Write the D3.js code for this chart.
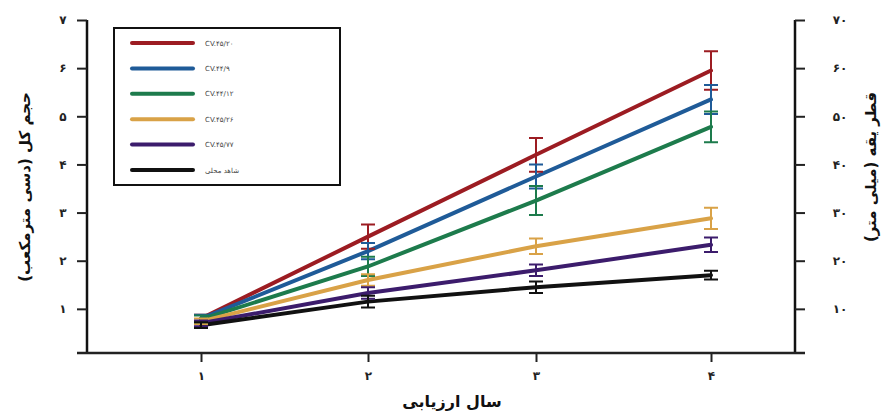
<!DOCTYPE html>
<html>
<head>
<meta charset="utf-8">
<script src="https://cdn.jsdelivr.net/npm/d3@7"></script>
<style>
  html, body { margin: 0; padding: 0; background: #fff; }
  svg { display: block; }
  text { font-family: "DejaVu Sans", sans-serif; }
</style>
</head>
<body>
<svg id="chart" width="892" height="414"></svg>
<script>
// ---------- data ----------
const years = [1, 2, 3, 4];
const yearLabels = ["۱", "۲", "۳", "۴"];
const leftTickValues = [1, 2, 3, 4, 5, 6, 7];
const leftTickLabels = ["۱", "۲", "۳", "۴", "۵", "۶", "۷"];
const rightTickValues = [10, 20, 30, 40, 50, 60, 70];
const rightTickLabels = ["۱۰", "۲۰", "۳۰", "۴۰", "۵۰", "۶۰", "۷۰"];

const seriesNames = ["CV.۴۵/۲۰", "CV.۴۴/۹", "CV.۴۴/۱۲", "CV.۴۵/۲۶", "CV.۴۵/۷۷", "شاهد محلی"];
const seriesColors = ["#9c1c22", "#1f5b98", "#1d7b4c", "#d9a247", "#3c1c6c", "#111111"];
const valsRed    = [0.80, 2.50, 4.20, 5.95];
const valsBlue   = [0.80, 2.20, 3.75, 5.35];
const valsGreen  = [0.78, 1.88, 3.25, 4.78];
const valsOrange = [0.74, 1.60, 2.30, 2.88];
const valsPurple = [0.70, 1.33, 1.80, 2.33];
const valsBlack  = [0.66, 1.15, 1.45, 1.70];
const errRed    = [0.08, 0.25, 0.35, 0.40];
const errBlue   = [0.08, 0.17, 0.25, 0.30];
const errGreen  = [0.08, 0.20, 0.30, 0.32];
const errOrange = [0.06, 0.12, 0.16, 0.22];
const errPurple = [0.06, 0.12, 0.12, 0.15];
const errBlack  = [0.06, 0.12, 0.12, 0.09];

const allValues = [valsRed, valsBlue, valsGreen, valsOrange, valsPurple, valsBlack];
const allErrors = [errRed, errBlue, errGreen, errOrange, errPurple, errBlack];

const series = seriesNames.map((name, i) => ({
  name, color: seriesColors[i],
  points: years.map((yr, j) => ({ x: yr, v: allValues[i][j], e: allErrors[i][j] }))
}));

// ---------- layout ----------
const svg = d3.select("#chart");
const pL = 87, pR = 795, pT = 20, pB = 353;

const x = d3.scaleLinear().domain([1, 2, 3, 4]).range([201, 368, 536, 711]);
const y = d3.scaleLinear().domain([0.083, 7]).range([pB, pT]);
const y2 = d3.scaleLinear().domain([0.83, 70]).range([pB, pT]);

// left axis
const gL = svg.append("g").attr("transform", `translate(${pL},0)`)
  .call(d3.axisLeft(y).tickValues(leftTickValues).tickSize(10)
    .tickFormat((d, i) => leftTickLabels[i]));
gL.select(".domain").attr("d", `M0,${pT}V${pB}`).attr("stroke", "#111").attr("stroke-width", 2.5);
gL.selectAll(".tick line").attr("stroke", "#222").attr("stroke-width", 2);
gL.selectAll(".tick text").attr("x", -24).attr("text-anchor", "middle")
  .attr("font-size", 12).attr("font-weight", "bold").attr("fill", "#222");

// right axis
const gR = svg.append("g").attr("transform", `translate(${pR},0)`)
  .call(d3.axisRight(y2).tickValues(rightTickValues).tickSize(10)
    .tickFormat((d, i) => rightTickLabels[i]));
gR.select(".domain").attr("d", `M0,${pT}V${pB}`).attr("stroke", "#111").attr("stroke-width", 2.5);
gR.selectAll(".tick line").attr("stroke", "#222").attr("stroke-width", 2);
gR.selectAll(".tick text").attr("x", 45).attr("text-anchor", "middle")
  .attr("font-size", 12).attr("font-weight", "bold").attr("fill", "#222");

// bottom axis
const gB = svg.append("g").attr("transform", `translate(0,${pB})`)
  .call(d3.axisBottom(x).tickValues(years).tickSize(9)
    .tickFormat((d, i) => yearLabels[i]));
gB.select(".domain").attr("d", `M${pL - 10},0H${pR + 10}`).attr("stroke", "#222").attr("stroke-width", 2.5);
gB.selectAll(".tick line").attr("stroke", "#222").attr("stroke-width", 2);
gB.selectAll(".tick text").attr("y", 18).attr("font-size", 12).attr("font-weight", "bold").attr("fill", "#222");

// axis titles
svg.append("text").attr("transform", "translate(30,187) rotate(-90)")
  .attr("text-anchor", "middle").attr("font-size", 15).attr("font-weight", "bold").attr("fill", "#111")
  .attr("direction", "rtl").text("حجم کل (دسی مترمکعب)");
svg.append("text").attr("transform", "translate(876,167) rotate(-90)")
  .attr("text-anchor", "middle").attr("font-size", 15).attr("font-weight", "bold").attr("fill", "#111")
  .attr("direction", "rtl").text("قطر یقه (میلی متر)");
svg.append("text").attr("x", 452).attr("y", 407)
  .attr("text-anchor", "middle").attr("font-size", 16).attr("font-weight", "bold").attr("fill", "#111")
  .attr("direction", "rtl").text("سال ارزیابی");

// lines
const line = d3.line().x(d => x(d.x)).y(d => y(d.v));
const gS = svg.append("g");
series.forEach(s => {
  gS.append("path").datum(s.points).attr("d", line)
    .attr("fill", "none").attr("stroke", s.color).attr("stroke-width", 4)
    .attr("stroke-linecap", "round");
});
// error bars
series.forEach(s => {
  const g = gS.append("g").attr("stroke", s.color).attr("stroke-width", 2).attr("fill", "none");
  s.points.forEach(p => {
    const cx = x(p.x), y0 = y(p.v - p.e), y1 = y(p.v + p.e), w = 7;
    g.append("path").attr("d", `M${cx},${y0}V${y1}M${cx - w},${y0}H${cx + w}M${cx - w},${y1}H${cx + w}`);
  });
});

// legend
const lg = svg.append("g");
lg.append("rect").attr("x", 114).attr("y", 28).attr("width", 226).attr("height", 157)
  .attr("fill", "#fff").attr("stroke", "#111").attr("stroke-width", 2);
series.forEach((s, i) => {
  const ly = 43 + i * 25.4;
  lg.append("line").attr("x1", 132).attr("x2", 193).attr("y1", ly).attr("y2", ly)
    .attr("stroke", s.color).attr("stroke-width", 4).attr("stroke-linecap", "round");
  lg.append("text").attr("x", 205).attr("y", ly + 2.5).attr("font-size", 7)
    .attr("fill", "#444").attr("direction", "ltr").text(s.name);
});
</script>
</body>
</html>
